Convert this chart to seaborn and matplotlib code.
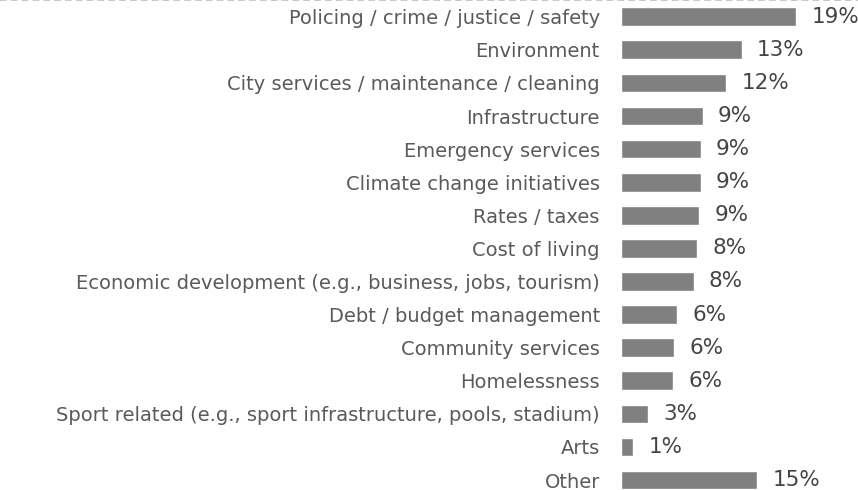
import pandas as pd
import matplotlib.pyplot as plt
import seaborn as sns
from matplotlib.lines import Line2D

# data
categories = [
    "Policing / crime / justice / safety",
    "Environment",
    "City services / maintenance / cleaning",
    "Infrastructure",
    "Emergency services",
    "Climate change initiatives",
    "Rates / taxes",
    "Cost of living",
    "Economic development (e.g., business, jobs, tourism)",
    "Debt / budget management",
    "Community services",
    "Homelessness",
    "Sport related (e.g., sport infrastructure, pools, stadium)",
    "Arts",
    "Other",
]
values = [19.3, 13.3, 11.6, 9.0, 8.8, 8.8, 8.6, 8.4, 8.0, 6.2, 5.9, 5.8, 3.0, 1.4, 15.0]
value_labels = ["19%", "13%", "12%", "9%", "9%", "9%", "9%", "8%", "8%",
                "6%", "6%", "6%", "3%", "1%", "15%"]

df = pd.DataFrame({"Category": categories, "Value": values})

sns.set_theme(style="white")
plt.rcParams['font.family'] = ['DejaVu Sans']

fig = plt.figure(figsize=(8.58, 4.90), dpi=100)
# axes starts where the bars start, extends past the bottom edge
ax = fig.add_axes([620.7 / 858, 0, 1 - 620.7 / 858, 1])

sns.barplot(data=df, y="Category", x="Value", orient="h", color="#808080",
            saturation=1, width=0.565, ax=ax)

ax.set_xlim(0, (858 - 620.7) / 9.1)
ax.set_ylim(14.3, -0.505)
ax.set_xlabel("")
ax.set_ylabel("")
ax.set_xticks([])
sns.despine(ax=ax, left=True, bottom=True)

ax.tick_params(axis="y", length=0, pad=15, labelsize=14, labelcolor="#5a5a5a")

ax.bar_label(ax.containers[0], labels=value_labels, padding=11,
             fontsize=15.5, color="#444444")

# dashed rule along the top
fig.add_artist(Line2D([0, 1], [0.999, 0.999], transform=fig.transFigure,
                      color="#bdbdbd", lw=1.2, ls=(0, (4, 2.5))))

fig.savefig("out.png", dpi=100)
